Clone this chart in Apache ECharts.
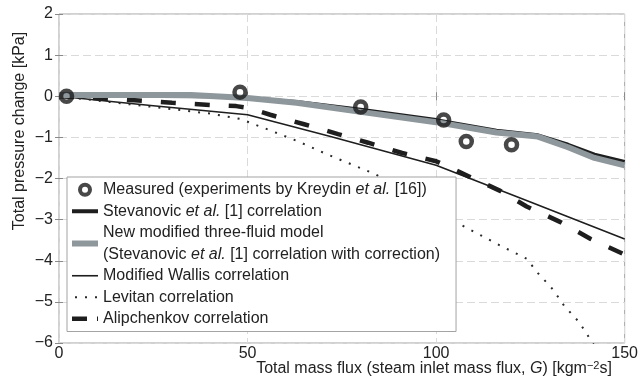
<!DOCTYPE html>
<html><head><meta charset="utf-8">
<script src="https://cdn.jsdelivr.net/npm/echarts@6/dist/echarts.min.js"></script>
<style>html,body{margin:0;padding:0;background:#fff}#c{width:641px;height:379px}</style>
</head><body><div id="c"></div>
<script>
// ---- data ----
const xTicks = [0, 50, 100, 150];
const yTicks = [2, 1, 0, -1, -2, -3, -4, -5, -6];
const measured = [[2, 0], [48, 0.1], [80, -0.26], [102, -0.58], [108, -1.1], [120, -1.18]];
const stevanovic = [[0, 0.02], [40, 0.0], [50, -0.05], [63, -0.14], [80, -0.33], [100, -0.58], [116, -0.84], [127, -0.95], [135, -1.18], [142, -1.42], [150, -1.6]];
const newModel = [[0, 0.03], [35, 0.03], [50, -0.04], [63, -0.16], [80, -0.38], [100, -0.63], [116, -0.88], [127, -0.98], [135, -1.24], [142, -1.5], [150, -1.68]];
const wallis = [[0, 0], [25, -0.23], [50, -0.45], [72, -0.98], [100, -1.68], [125, -2.57], [150, -3.47]];
const levitan = [[0, 0], [25, -0.26], [40, -0.42], [48, -0.55], [56, -0.83], [64, -1.12], [71, -1.41], [79, -1.71], [84, -1.9], [95, -2.5], [105, -3.05], [117, -3.63], [124, -3.95], [127, -4.3], [131, -4.7], [134, -5.1], [138, -5.5], [141.5, -6.0], [150, -7.1]];
const alipchenkov = [[0, 0], [20, -0.1], [30, -0.16], [40, -0.21], [47, -0.24], [50, -0.28], [56, -0.45], [65, -0.68], [74, -0.92], [82, -1.13], [91, -1.38], [100, -1.58], [117, -2.3], [124, -2.68], [133, -3.06], [141, -3.47], [150, -3.85]];
const seriesNames = ['Measured', 'Stevanovic', 'NewModel', 'Wallis', 'Levitan', 'Alipchenkov'];
const legendLabels = {
  Measured: 'Measured (experiments by Kreydin {i|et al.} [16])',
  Stevanovic: 'Stevanovic {i|et al.} [1] correlation',
  NewModel: 'New modified three-fluid model\n(Stevanovic {i|et al.} [1] correlation with correction)',
  Wallis: 'Modified Wallis correlation',
  Levitan: 'Levitan correlation',
  Alipchenkov: 'Alipchenkov correlation'
};
const xTitle = 'Total mass flux (steam inlet mass flux, {i|G}) [kgm{s|\u22122}s]';
const yTitle = 'Total pressure change [kPa]';

const FONT = '"Liberation Sans", Arial, Helvetica, sans-serif';
const TXT = '#222';
const FS = 16;
const fmtNum = v => (v < 0 ? '\u2212' + Math.abs(v) : String(v));

const chart = echarts.init(document.getElementById('c'), null, {renderer: 'canvas'});
const axisCommonX = {
  type: 'value', min: xTicks[0], max: xTicks[xTicks.length - 1], interval: 50,
  axisLine: {show: false},
  axisTick: {show: true, inside: true, length: 4, lineStyle: {color: '#8a8a8a'}}
};
const axisCommonY = {
  type: 'value', min: yTicks[yTicks.length - 1], max: yTicks[0], interval: 1,
  axisLine: {show: false},
  axisTick: {show: true, inside: true, length: 4, lineStyle: {color: '#8a8a8a'}}
};
chart.setOption({
  animation: false,
  backgroundColor: '#fff',
  grid: {left: 59, right: 14, top: 14, bottom: 36, show: true, borderColor: '#a3a3a3', borderWidth: 1, backgroundColor: 'transparent'},
  xAxis: [
    Object.assign({}, axisCommonX, {
      position: 'bottom',
      axisLabel: {color: TXT, fontFamily: FONT, fontSize: FS, margin: 3, formatter: fmtNum},
      splitLine: {show: true, lineStyle: {color: '#dadada', type: [8, 4], width: 1}}
    }),
    Object.assign({}, axisCommonX, {position: 'top', axisLabel: {show: false}, splitLine: {show: false}})
  ],
  yAxis: [
    Object.assign({}, axisCommonY, {
      position: 'left',
      axisLabel: {color: TXT, fontFamily: FONT, fontSize: FS, margin: 6, formatter: fmtNum},
      splitLine: {show: true, lineStyle: {color: '#dadada', type: [8, 4], width: 1}}
    }),
    Object.assign({}, axisCommonY, {position: 'right', axisLabel: {show: false}, splitLine: {show: false}})
  ],
  legend: {
    orient: 'vertical', left: 67, top: 177,
    padding: [2, 16, 2, 2],
    backgroundColor: '#fff', borderColor: '#a3a3a3', borderWidth: 1,
    itemWidth: 26, itemHeight: 10, itemGap: 0,
    selectedMode: false,
    textStyle: {fontFamily: FONT, fontSize: FS, color: TXT, lineHeight: 21.5,
      rich: {i: {fontFamily: FONT, fontSize: FS, color: TXT, fontStyle: 'italic', lineHeight: 21.5}}},
    formatter: name => legendLabels[name],
    data: [
      {name: 'Measured', itemStyle: {borderWidth: 4}},
      {name: 'Stevanovic', lineStyle: {width: 4}, itemStyle: {opacity: 0}},
      {name: 'NewModel', lineStyle: {width: 6}, itemStyle: {opacity: 0}},
      {name: 'Wallis', lineStyle: {width: 1.6}, itemStyle: {opacity: 0}},
      {name: 'Levitan', lineStyle: {width: 2, type: [2, 8], dashOffset: 7}, itemStyle: {opacity: 0}},
      {name: 'Alipchenkov', lineStyle: {width: 4.5, type: [22, 10]}, itemStyle: {opacity: 0}}
    ]
  },
  graphic: [
    {type: 'text', x: 20, y: 131, rotation: Math.PI / 2, z: 100,
      style: {text: yTitle, fontFamily: FONT, fontSize: FS, fill: TXT, align: 'center', verticalAlign: 'middle'}},
    {type: 'text', x: 434, y: 369, z: 100,
      style: {text: xTitle, fontFamily: FONT, fontSize: FS, fill: TXT, align: 'center', verticalAlign: 'middle', lineHeight: 18,
        rich: {i: {fontFamily: FONT, fontSize: FS, fill: TXT, fontStyle: 'italic', lineHeight: 18},
               s: {fontFamily: FONT, fontSize: 11, fill: TXT, verticalAlign: 'top', lineHeight: 12}}}}
  ],
  series: [
    {name: 'Stevanovic', type: 'line', data: stevanovic, symbol: 'none', z: 2,
      lineStyle: {color: '#1e1e1e', width: 4}, itemStyle: {color: '#1e1e1e'}},
    {name: 'NewModel', type: 'line', data: newModel, symbol: 'none', z: 3,
      lineStyle: {color: '#8e979c', width: 6}, itemStyle: {color: '#8e979c'}},
    {name: 'Wallis', type: 'line', data: wallis, symbol: 'none', z: 2,
      lineStyle: {color: '#1e1e1e', width: 1.6}, itemStyle: {color: '#1e1e1e'}},
    {name: 'Levitan', type: 'line', data: levitan, symbol: 'none', z: 2,
      lineStyle: {color: '#2a2a2a', width: 2, type: [2, 8]}, itemStyle: {color: '#2a2a2a'}},
    {name: 'Alipchenkov', type: 'line', data: alipchenkov, symbol: 'none', z: 2,
      lineStyle: {color: '#1e1e1e', width: 4.5, type: [15, 19]}, itemStyle: {color: '#1e1e1e'}},
    {name: 'Measured', type: 'scatter', data: measured, symbol: 'circle', symbolSize: 11, z: 5,
      itemStyle: {color: 'rgba(0,0,0,0)', borderColor: '#1a1a1a', borderWidth: 4.5}}
  ]
});
</script>
</body></html>
